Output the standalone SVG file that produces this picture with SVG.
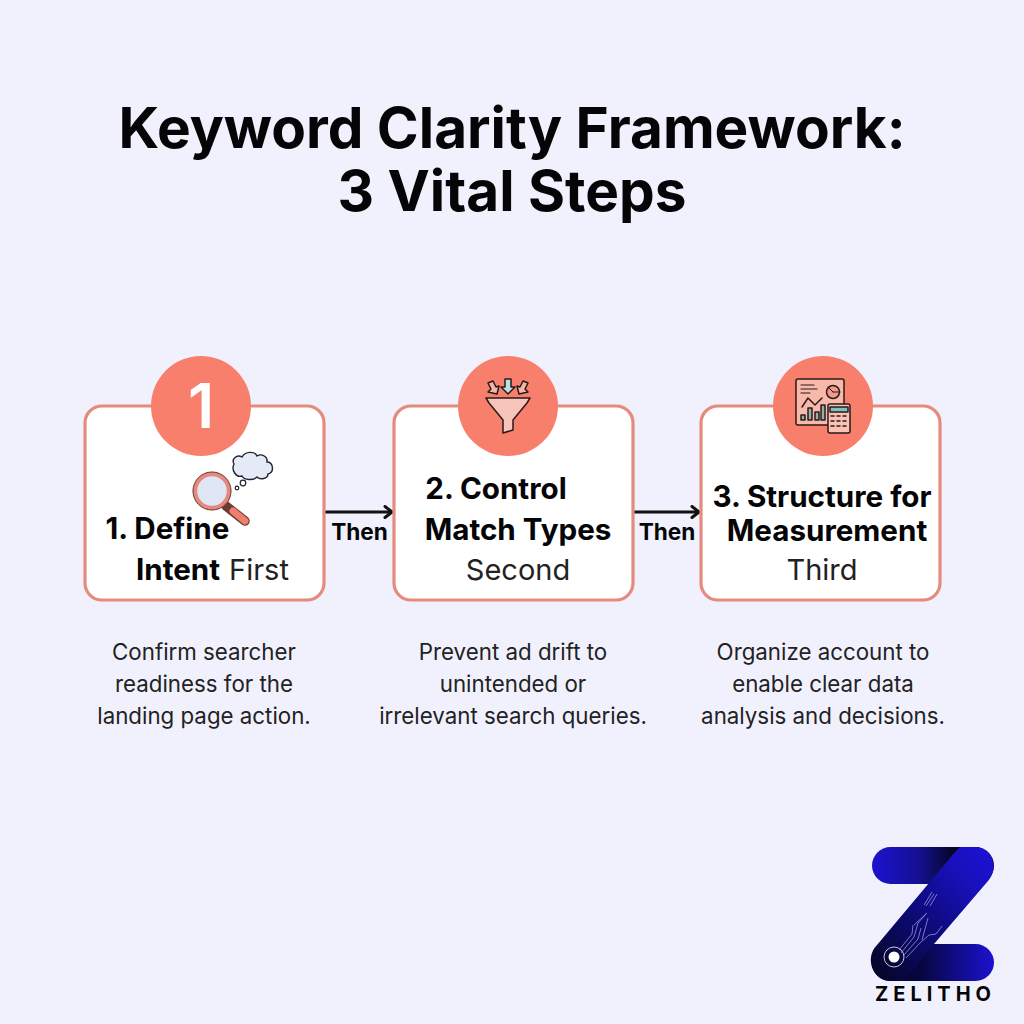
<svg xmlns="http://www.w3.org/2000/svg" width="1024" height="1024" viewBox="0 0 1024 1024">
<style>
text{font-family:Inter,"Liberation Sans",sans-serif;text-anchor:middle;fill:#050508}
.t{font-size:56.7px;font-weight:700}
.h{font-size:29.6px;font-weight:700}
.r{font-size:29px;font-weight:400;fill:#222}
.d{font-size:22.3px;fill:#222}
.c{font-size:22.6px;font-weight:700}
.card{fill:#fff;stroke:#e58b7e;stroke-width:3.2}
.b{fill:#f97f6d}
.ln{fill:none;stroke:#111;stroke-width:3;stroke-linecap:round;stroke-linejoin:round}
.i{stroke:#2a1a1a;stroke-width:1.5;stroke-linejoin:round;stroke-linecap:round}
</style>
<defs>
<marker id="a" viewBox="0 0 12 14" refX="10" refY="7" markerWidth="12" markerHeight="14" markerUnits="userSpaceOnUse" orient="auto"><path d="M3 1.5L10 7L3 12.5" fill="none" stroke="#111" stroke-width="3" stroke-linecap="round" stroke-linejoin="round"/></marker>
<linearGradient id="z1" x1="0" x2="1" y1="0" y2="0"><stop offset="0" stop-color="#1c12d0"/><stop offset=".4" stop-color="#14108f"/><stop offset=".68" stop-color="#050520"/></linearGradient>
<linearGradient id="z2" x1="0" x2="1" y1="1" y2="0"><stop offset="0" stop-color="#05051f"/><stop offset=".4" stop-color="#0c0a70"/><stop offset=".75" stop-color="#1810b8"/><stop offset="1" stop-color="#1c12d8"/></linearGradient>
<linearGradient id="z3" x1="0" x2="1" y1="0" y2="0"><stop offset="0" stop-color="#05051f"/><stop offset=".4" stop-color="#060640"/><stop offset="1" stop-color="#1c12d0"/></linearGradient>
</defs>
<rect width="1024" height="1024" fill="#f1f1fe"/>
<g id="title"><text class="t" x="512" y="148">Keyword Clarity Framework:</text><text class="t" x="512" y="211">3 Vital Steps</text></g>
<g id="connectors">
<path class="ln" d="M326 512H392" marker-end="url(#a)"/>
<path class="ln" d="M634 512H699" marker-end="url(#a)"/>
<text class="c" x="359.500" y="540">Then</text>
<text class="c" x="667" y="540">Then</text>
</g>
<g id="step1">
<rect class="card" x="85" y="406" width="239" height="194" rx="17"/>
<circle class="b" cx="201" cy="406" r="50"/>
<text x="201" y="428" font-size="62" font-weight="600" style="fill:#fff">1</text>
<g id="icon-search">
<path d="M234 464c-3-5 3-10 8-7c3-6 13-6 15-1c5-3 11 1 10 6c6 0 8 10 1 12c0 5-8 6-11 3c-4 4-13 3-15-1c-6 2-11-6-8-12z" fill="#e4ebf7" stroke="#223" stroke-width="1.4"/>
<circle cx="243" cy="483" r="2.8" fill="#fff" stroke="#223" stroke-width="1.2"/>
<circle cx="237" cy="488" r="1.8" fill="#fff" stroke="#223" stroke-width="1.2"/>
<path d="M226 506L245 521" stroke="#6d3a33" stroke-width="9.500" stroke-linecap="round"/>
<path d="M233 511L245 521" stroke="#ee7f6e" stroke-width="7" stroke-linecap="round"/>
<circle cx="212" cy="491" r="17" fill="#dfe6f6" stroke="#e58b7e" stroke-width="4.500"/>
<circle cx="212" cy="491" r="19" fill="none" stroke="#6d3a33" stroke-width="1"/>
</g>
<text class="h" x="167.500" y="539">1. Define</text>
<text class="h" x="178" y="580">Intent</text>
<text class="r" x="259" y="580">First</text>
</g>
<g id="step2">
<rect class="card" x="394" y="406" width="239" height="194" rx="17"/>
<circle class="b" cx="508" cy="406" r="50"/>
<g id="icon-funnel" class="i">
<path d="M486 398H530L527 403L513 420V430L503 433V420L489 403Z" fill="#f6c4b8"/>
<path d="M505 379H511V387H515L508 394L501 387H505Z" fill="#b9e0e2"/>
<path d="M488 383L493 381L496 387L499 386L497 394L488 392L491 389Z" fill="#f6b7aa"/>
<path d="M528 383L523 381L520 387L517 386L519 394L528 392L525 389Z" fill="#f6b7aa"/>
</g>
<text class="h" x="496" y="499">2. Control</text>
<text class="h" x="518" y="540">Match Types</text>
<text class="r" x="518" y="580">Second</text>
</g>
<g id="step3">
<rect class="card" x="701" y="406" width="239" height="194" rx="17"/>
<circle class="b" cx="823" cy="406" r="50"/>
<g id="icon-report" class="i">
<rect x="796" y="379" width="48" height="46" rx="2" fill="#f9b9aa"/>
<path d="M801 385H814M801 389H817M801 393H810" fill="none" stroke-width="1.200"/>
<circle cx="833" cy="392" r="6.500" fill="#f29a89"/>
<path d="M833 392L828 387M833 392H840" fill="none" stroke-width="1"/>
<path d="M802 407L808 398L815 405L822 398" fill="none"/>
<path d="M801 420v-5h4v5zM808 420v-12h4v12zM815 420v-8h4v8zM821 420v-15h4v15z" fill="#8fb3aa"/>
<rect x="828" y="404" width="22" height="29" rx="2" fill="#f9c2b5"/>
<rect x="830" y="407" width="18" height="5" fill="#79c4bd"/>
<path d="M831 416h3M837 416h3M843 416h3M831 421h3M837 421h3M843 421h3M831 426h3M837 426h3M843 426h3" fill="none"/>
</g>
<text class="h" x="822" y="507">3. Structure for</text>
<text class="h" x="827" y="541">Measurement</text>
<text class="r" x="822" y="580">Third</text>
</g>
<g id="desc1"><text class="d" x="204" y="660">Confirm searcher</text><text class="d" x="204" y="692">readiness for the</text><text class="d" x="204" y="724">landing page action.</text></g>
<g id="desc2"><text class="d" x="513" y="660">Prevent ad drift to</text><text class="d" x="513" y="692">unintended or</text><text class="d" x="513" y="724">irrelevant search queries.</text></g>
<g id="desc3"><text class="d" x="823" y="660">Organize account to</text><text class="d" x="823" y="692">enable clear data</text><text class="d" x="823" y="724">analysis and decisions.</text></g>
<g id="logo">
<rect x="872" y="847" width="122" height="37" rx="18.500" fill="url(#z1)"/>
<rect x="872" y="944" width="122" height="37" rx="18.500" fill="url(#z3)"/>
<path d="M960 847H975C992 847 1000 868 988 881L934 944L905 981H890C873 981 864 958 877 945L955 852Z" fill="url(#z2)"/>
<g fill="none" stroke="#a9a5f5" stroke-width=".7">
<path d="M899 950L912 934L913 925M901 953L914 937L918 923L926 914M904 955L918 939L921 928M906 958L920 943L929 935L936 934L942 926M924 905L932 892M926 906L934 894M930 906L937 894M914 925L927 913M928 918L922 940"/>
</g>
<circle cx="894" cy="957" r="10" fill="none" stroke="#ddd" stroke-width=".9"/>
<circle cx="894" cy="957" r="5.500" fill="#fff"/>
<text x="935.500" y="1001" font-size="20" font-weight="700" letter-spacing="5">ZELITHO</text>
</g>
</svg>
